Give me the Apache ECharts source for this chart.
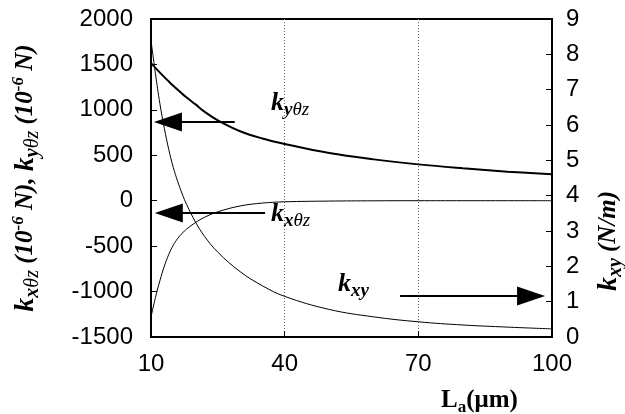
<!DOCTYPE html>
<html>
<head>
<meta charset="utf-8">
<script src="https://cdn.jsdelivr.net/npm/echarts@6/dist/echarts.min.js"></script>
<style>
html,body{margin:0;padding:0;background:#fff;}
#chart{width:625px;height:414px;}
</style>
</head>
<body>
<div id="chart"></div>
<script>
// ---- data ----
const La = [10, 11, 12, 13, 14, 15, 16, 17, 18, 20, 22, 25, 30, 35, 40, 50, 60, 70, 80, 90, 100];
const kyThetaZ = [1515, 1462, 1410, 1360, 1312, 1265, 1220, 1177, 1136, 1060, 980, 885, 765, 685, 625, 525, 455, 400, 357, 320, 290];
const kxThetaZ = [-1280, -1065, -880, -720, -590, -490, -415, -358, -312, -240, -183, -122, -58, -26, -12, -4, -1, 0, 0, 0, 0];
const kxy = [8.4, 7.45, 6.6, 5.9, 5.3, 4.8, 4.4, 4.05, 3.75, 3.25, 2.85, 2.4, 1.85, 1.45, 1.15, 0.78, 0.57, 0.43, 0.34, 0.28, 0.23];
const xTicks = [10, 40, 70, 100];
const leftTicks = [-1500, -1000, -500, 0, 500, 1000, 1500, 2000];
const rightTicks = [0, 1, 2, 3, 4, 5, 6, 7, 8, 9];
// arrow annotations [fromX, fromY, toX, toY]
const arrowKy = [28.8, 865, 13.8, 865];
const arrowKx = [35.6, -134, 14.0, -134];
const arrowKxy = [65.9, 1.16, 95.3, 1.16];

const pairs = (xs, ys) => xs.map((x, i) => [x, ys[i]]);

const serif = 'Liberation Serif';
const sans = 'Liberation Sans';
const nameRich = {
  k: {fontFamily: serif, fontWeight: 'bold', fontStyle: 'italic', fontSize: 28, color: '#000'},
  sb: {fontFamily: serif, fontWeight: 'bold', fontStyle: 'italic', fontSize: 20, color: '#000', padding: [15, 0, 0, 0]},
  sn: {fontFamily: serif, fontStyle: 'italic', fontSize: 20, color: '#000', padding: [15, 0, 0, 0]},
  t: {fontFamily: serif, fontWeight: 'bold', fontStyle: 'italic', fontSize: 25, color: '#000'},
  sp: {fontFamily: serif, fontWeight: 'bold', fontStyle: 'italic', fontSize: 17, color: '#000', padding: [0, 0, 14, 0]},
  L: {fontFamily: serif, fontWeight: 'bold', fontSize: 25, color: '#000'},
  sa: {fontFamily: serif, fontWeight: 'bold', fontSize: 17, color: '#000', padding: [13, 0, 0, 0]}
};
const curveRich = {
  k: {fontFamily: serif, fontWeight: 'bold', fontStyle: 'italic', fontSize: 26, color: '#000'},
  sb: {fontFamily: serif, fontWeight: 'bold', fontStyle: 'italic', fontSize: 19, color: '#000', padding: [14, 0, 0, 0]},
  sn: {fontFamily: serif, fontStyle: 'italic', fontSize: 19, color: '#000', padding: [14, 0, 0, 0]}
};

function arrow(a) {
  return [{coord: [a[0], a[1]]}, {coord: [a[2], a[3]]}];
}
const arrowStyle = {
  silent: true,
  symbol: ['none', 'triangle'],
  symbolSize: [19, 28],
  label: {show: false},
  lineStyle: {color: '#000', width: 2, type: 'solid'},
  emphasis: {disabled: true}
};
const plain = v => String(v);

const chart = echarts.init(document.getElementById('chart'));
chart.setOption({
  animation: false,
  backgroundColor: '#fff',
  grid: {left: 151, right: 73, top: 19, bottom: 77, containLabel: false, outerBoundsMode: 'none',
         show: true, borderColor: '#000', borderWidth: 2, backgroundColor: 'transparent'},
  xAxis: {
    type: 'value', min: xTicks[0], max: xTicks[xTicks.length - 1], interval: xTicks[1] - xTicks[0],
    axisLine: {onZero: false, lineStyle: {color: '#000', width: 2}},
    axisTick: {inside: true, length: 6, lineStyle: {color: '#000', width: 1}},
    axisLabel: {fontFamily: sans, fontSize: 24, color: '#000', margin: 15, formatter: plain},
    splitLine: {show: true, lineStyle: {color: '#666', type: [1, 2], width: 1}},
    name: '{L|L}{sa|a}{L|(μm)}',
    nameLocation: 'middle', nameGap: 49,
    nameTextStyle: {rich: nameRich, padding: [0, 0, 0, 256]}
  },
  yAxis: [{
    type: 'value', min: leftTicks[0], max: leftTicks[leftTicks.length - 1], interval: leftTicks[1] - leftTicks[0],
    axisLine: {onZero: false, lineStyle: {color: '#000', width: 2}},
    axisTick: {inside: true, length: 6, lineStyle: {color: '#000', width: 1}},
    axisLabel: {fontFamily: sans, fontSize: 24, color: '#000', margin: 18, formatter: plain},
    splitLine: {show: false},
    name: '{k|k}{sb|x}{sn|θz}{t| (10}{sp|-6}{t| N), }{k|k}{sb|y}{sn|θz}{t| (10}{sp|-6}{t| N)}',
    nameLocation: 'middle', nameGap: 108, nameRotate: 90,
    nameTextStyle: {rich: nameRich}
  }, {
    type: 'value', position: 'right', min: rightTicks[0], max: rightTicks[rightTicks.length - 1], interval: rightTicks[1] - rightTicks[0],
    axisLine: {show: true, onZero: false, lineStyle: {color: '#000', width: 2}},
    axisTick: {show: true, inside: true, length: 6, lineStyle: {color: '#000', width: 1}},
    axisLabel: {fontFamily: sans, fontSize: 24, color: '#000', margin: 14, formatter: plain},
    splitLine: {show: false},
    name: '{k|k}{sb|xy}{t| (N/m)}',
    nameLocation: 'middle', nameGap: 39, nameRotate: 90,
    nameTextStyle: {rich: nameRich, padding: [0, 126, 0, 0]}
  }],
  series: [{
    name: 'kyθz', type: 'line', yAxisIndex: 0, data: pairs(La, kyThetaZ),
    showSymbol: false, smooth: 0.4,
    lineStyle: {color: '#000', width: 2},
    markLine: Object.assign({data: [arrow(arrowKy)]}, arrowStyle)
  }, {
    name: 'kxθz', type: 'line', yAxisIndex: 0, data: pairs(La, kxThetaZ),
    showSymbol: false, smooth: 0.4,
    lineStyle: {color: '#000', width: 1},
    markLine: Object.assign({data: [arrow(arrowKx)]}, arrowStyle)
  }, {
    name: 'kxy', type: 'line', yAxisIndex: 1, data: pairs(La, kxy),
    showSymbol: false, smooth: 0.4,
    lineStyle: {color: '#000', width: 1},
    markLine: Object.assign({data: [arrow(arrowKxy)]}, arrowStyle)
  }],
  graphic: [
    {type: 'text', left: 271, top: 90, style: {text: '{k|k}{sb|y}{sn|θz}', rich: curveRich}},
    {type: 'text', left: 271, top: 201, style: {text: '{k|k}{sb|x}{sn|θz}', rich: curveRich}},
    {type: 'text', left: 338, top: 271, style: {text: '{k|k}{sb|xy}', rich: curveRich}}
  ]
});
</script>
</body>
</html>
